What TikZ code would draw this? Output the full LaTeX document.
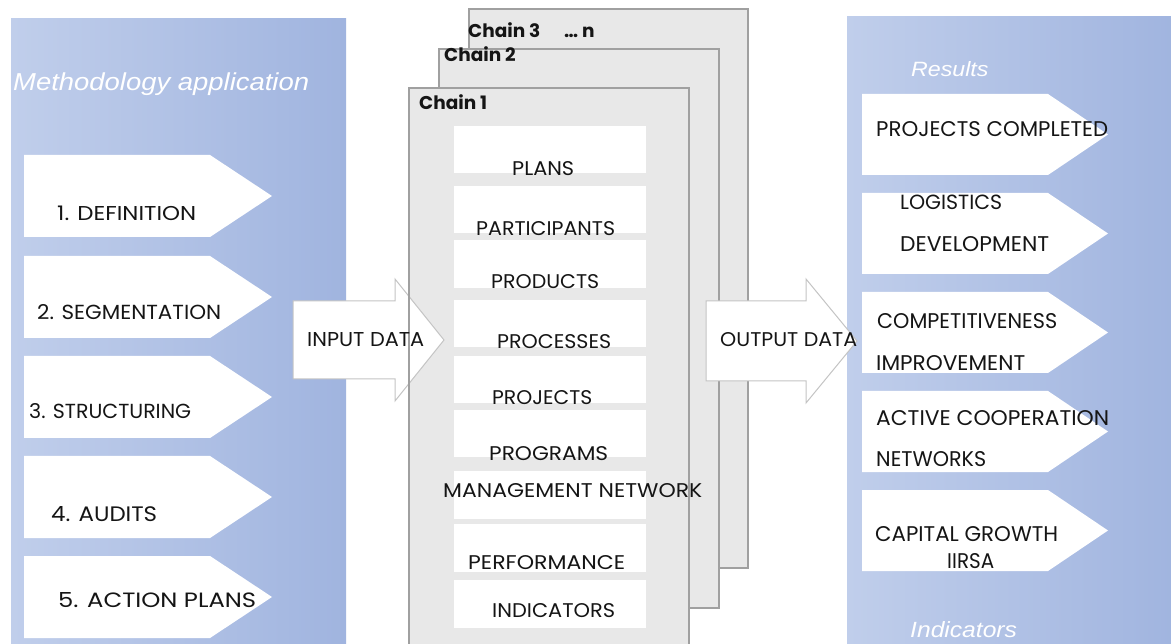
\documentclass[tikz,border=0pt]{standalone}
\usepackage{fontspec}
\usepackage{graphicx}
\setmainfont{Poppins}
\newfontfamily\titlefont[FakeStretch=1.12]{Liberation Sans}
\definecolor{panelL}{HTML}{C0CEEB}
\definecolor{panelR}{HTML}{A0B4DF}
\definecolor{chainfill}{HTML}{E8E8E8}
\definecolor{chainline}{HTML}{A0A0A0}
\definecolor{arrowline}{HTML}{C4C4C4}
\definecolor{ink}{HTML}{151515}

% white tag shape: left x, top y, end of flat edge, tip x, height
\newcommand\tagshape[5]{%
  \fill[white] (#1,#2) -- (#3,#2) -- (#4,{#2+#5/2}) -- (#3,{#2+#5}) -- (#1,{#2+#5}) -- cycle;}
% capital text set to a given width and cap height
\newcommand\capsw[3]{\resizebox{#1pt}{#2pt}{#3}}

\begin{document}
\begin{tikzpicture}[x=1pt,y=-1pt,
  item/.style={font=\fontsize{20}{20}\selectfont, text=ink, inner sep=0pt, anchor=base west},
  citem/.style={item, anchor=base},
  chainlbl/.style={font=\fontsize{18.5}{18.5}\selectfont\bfseries, text=ink, inner sep=0pt, anchor=base west},
  title/.style={font=\titlefont\itshape\fontsize{24.5}{24.5}\selectfont, text=white, inner sep=0pt, anchor=base west},
  chainbox/.style={fill=chainfill, draw=chainline, line width=1.5pt},
  blockarrow/.style={fill=white, draw=arrowline, line width=1pt, line join=miter},
]
\useasboundingbox (0,0) rectangle (1171,644);
\clip (0,0) rectangle (1171,644);
\fill[white] (0,0) rectangle (1171,644);

% ---- left panel: methodology steps ----
\shade[left color=panelL, right color=panelR] (11,19) rectangle (346,650);
\node[title] (methtitle) at (13,91) {Methodology application};
\foreach \t in {155,256,356,456,556} {\tagshape{24}{\t}{210}{272}{82}}
\node[item] (s1) at (57,221) {\capsw{139}{14.5}{1. DEFINITION}};
\node[item] (s2) at (37,320) {\capsw{184}{15}{2. SEGMENTATION}};
\node[item] (s3) at (29,419) {\capsw{162}{15}{3. STRUCTURING}};
\node[item] (s4) at (51,521) {\capsw{106}{15}{4. AUDITS}};
\node[item] (s5) at (58,607) {\capsw{198}{15}{5. ACTION PLANS}};

% ---- right panel: results ----
\shade[left color=panelL, right color=panelR] (847,17) rectangle (1180,650);
\node[title, font=\titlefont\itshape\fontsize{20.7}{20.7}\selectfont] (restitle) at (911,77) {Results};
\node[title, font=\titlefont\itshape\fontsize{22}{22}\selectfont] (indtitle) at (910,637) {Indicators};
\foreach \t in {94,193,292,391,490} {\tagshape{862}{\t}{1048}{1108}{81}}

% ---- stacked chains ----
\filldraw[chainbox] (469,9) rectangle (748,568);
\filldraw[chainbox] (439,49) rectangle (719,608);
\filldraw[chainbox] (409,88) rectangle (689,660);
\node[chainlbl] (c3) at (468,38) {Chain 3};
\node[chainlbl] (cn) at (564,38) {… n};
\node[chainlbl] (c2) at (444,62) {Chain 2};
\node[chainlbl] (c1) at (419,110) {Chain 1};

% white slots of chain 1
\foreach \a/\b in {126/173,186/233,240/288,300/347,356/403,410/457,471/519,524/572,580/628}
  {\fill[white] (454,\a) rectangle (646,\b);}

% ---- block arrows ----
\filldraw[blockarrow] (293,301) -- (395,301) -- (395,279) -- (444,340)
  -- (395,401) -- (395,379) -- (293,379) -- cycle;
\draw[chainline, line width=1.5pt] (409,279) -- (409,401);
\filldraw[blockarrow] (706,301) -- (806,301) -- (806,279) -- (857,341)
  -- (806,403) -- (806,381) -- (706,381) -- cycle;

% ---- texts of the chain slots ----
\node[item] (plans) at (512,176) {\capsw{62}{14}{PLANS}};
\node[item] (parts) at (476,236) {\capsw{139}{14}{PARTICIPANTS}};
\node[item] (prods) at (491,289) {\capsw{108}{14}{PRODUCTS}};
\node[item] (procs) at (497,349) {\capsw{114}{14}{PROCESSES}};
\node[item] (projs) at (492,405) {\capsw{100}{14}{PROJECTS}};
\node[item] (progs) at (489,460) {\capsw{119}{14}{PROGRAMS}};
\node[item] (mgmt) at (443,497) {\capsw{259}{14}{MANAGEMENT NETWORK}};
\node[item] (perf) at (468,569) {\capsw{157}{14}{PERFORMANCE}};
\node[item] (indic) at (492,617) {\capsw{123}{14}{INDICATORS}};

\node[item] (inp) at (307,347) {\capsw{117}{14}{INPUT DATA}};
\node[item] (outp) at (720,347) {\capsw{137}{14}{OUTPUT DATA}};

% ---- result texts ----
\node[item] (r1) at (876,137) {\capsw{232}{15}{PROJECTS COMPLETED}};
\node[item] (r2a) at (900,210) {\capsw{102}{14.5}{LOGISTICS}};
\node[item] (r2b) at (900,252) {\capsw{149}{15}{DEVELOPMENT}};
\node[item] (r3a) at (877,329) {\capsw{180}{15}{COMPETITIVENESS}};
\node[item] (r3b) at (876,371) {\capsw{149}{15}{IMPROVEMENT}};
\node[item] (r4a) at (876,426) {\capsw{233}{15}{ACTIVE COOPERATION}};
\node[item] (r4b) at (876,467) {\capsw{110}{15}{NETWORKS}};
\node[item] (r5a) at (875,541) {\capsw{183}{15}{CAPITAL GROWTH}};
\node[item] (r5b) at (947,568) {\capsw{47}{15}{IIRSA}};
\end{tikzpicture}
\end{document}
